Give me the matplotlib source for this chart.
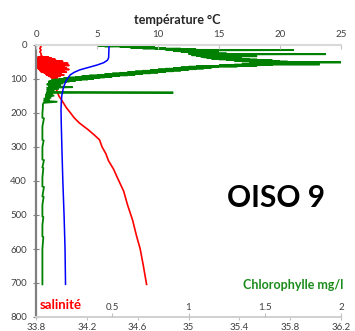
import matplotlib
matplotlib.use("Agg")
import matplotlib.pyplot as plt

plt.rcParams['font.family'] = ['Lato', 'DejaVu Sans']

# ---- Profile data (depth in m) ----
# Temperature (deg C)
temp_depth = [0, 10, 20, 30, 38, 45, 52, 59, 66, 73, 80, 88, 100, 111, 125, 147, 170, 190,
              230, 300, 400, 500, 600, 704]
temp_vals = [5.98, 5.98, 5.97, 5.96, 5.95, 5.85, 5.55, 5.00, 4.30, 3.60, 3.15, 2.80, 2.55,
             2.40, 2.25, 2.12, 2.07, 2.05, 2.07, 2.12, 2.20, 2.30, 2.38, 2.42]

# Salinity
sal_depth = ([0, 5, 10, 15, 20, 25, 30, 34]
             + list(range(35, 95))
             + [96, 98, 100, 103, 110, 120, 130, 140, 150, 161, 173, 185, 199, 214, 229,
                249, 265, 279, 300, 320, 340, 365, 390, 430, 470, 515, 560, 600, 650, 704])
sal_vals = [33.83, 33.84, 33.83, 33.84, 33.83, 33.84, 33.84, 33.85,
            33.82, 33.90, 33.80, 33.92, 33.81, 33.88, 33.80, 33.95, 33.82, 33.91,
            33.80, 33.96, 33.81, 34.01, 33.80, 33.93, 33.82, 33.97, 33.80, 34.05,
            33.81, 33.94, 33.80, 33.99, 33.82, 34.06, 33.81, 33.95, 33.80, 34.02,
            33.82, 33.94, 33.81, 34.04, 33.83, 33.95, 33.82, 34.06, 33.84, 33.96,
            33.83, 34.02, 33.85, 33.97, 33.84, 34.04, 33.86, 33.96, 33.87, 34.00,
            33.88, 33.97, 33.88, 34.02, 33.89, 33.96, 33.90, 33.99, 33.91, 33.96,
            33.92, 33.97, 33.93, 33.95, 33.94, 33.95, 33.96, 33.97, 33.98, 34.00,
            34.02, 34.04, 34.07, 34.10, 34.14, 34.21, 34.26, 34.30, 34.32, 34.35,
            34.37, 34.41, 34.44, 34.49, 34.52, 34.56, 34.59, 34.62, 34.645, 34.67]

# Chlorophyll (mg/l)
chl_depth = list(range(0, 111)) + [113, 116, 118, 121, 124, 126, 129, 132, 135, 138, 140,
             141, 143, 146, 149, 152, 155, 158, 161, 164, 167, 170, 175, 185, 200, 214,
             216, 240, 260, 279, 281, 300, 320, 337, 339, 360, 362, 390, 416, 418, 445,
             447, 470, 504, 506, 530, 563, 565, 600, 640, 670, 704]
chl_vals = [0.34, 0.64, 0.40, 0.55, 0.45, 0.70, 0.55, 0.78, 0.62, 0.85,
            0.70, 0.95, 0.78, 1.05, 0.85, 1.69, 0.95, 1.10, 0.90, 1.15,
            0.95, 1.20, 1.00, 1.17, 1.05, 1.25, 1.00, 1.90, 1.05, 1.20,
            1.02, 1.30, 1.05, 1.45, 1.08, 1.25, 1.10, 1.35, 1.12, 1.30,
            1.15, 1.40, 1.20, 1.45, 1.25, 1.55, 1.30, 1.60, 1.35, 1.65,
            1.40, 2.00, 1.45, 1.70, 1.40, 1.65, 1.35, 1.86, 1.30, 1.55,
            1.20, 1.45, 1.05, 1.32, 1.00, 1.20, 0.95, 1.15, 0.90, 1.10,
            0.85, 1.05, 0.80, 1.00, 0.75, 0.95, 0.70, 0.90, 0.65, 0.85,
            0.60, 0.80, 0.55, 0.75, 0.50, 0.70, 0.45, 0.65, 0.40, 0.60,
            0.35, 0.55, 0.30, 0.50, 0.26, 0.45, 0.22, 0.42, 0.18, 0.38,
            0.15, 0.34, 0.12, 0.30, 0.10, 0.26, 0.09, 0.22, 0.08, 0.20,
            0.08,
            0.18, 0.07, 0.16, 0.08, 0.24, 0.07, 0.15, 0.07, 0.12, 0.07,
            0.90, 0.07, 0.11, 0.06, 0.12, 0.06, 0.10, 0.05, 0.09, 0.05,
            0.14, 0.05, 0.045, 0.045, 0.042, 0.042,
            0.052, 0.042, 0.042, 0.042, 0.05, 0.042, 0.042, 0.042, 0.052, 0.042,
            0.048, 0.042, 0.042, 0.052, 0.042,
            0.05, 0.042, 0.042, 0.048, 0.042, 0.042, 0.048, 0.042, 0.042, 0.042, 0.042]

temp_ticks = [0, 5, 10, 15, 20, 25]
chl_ticks = [0.5, 1, 1.5, 2]
chl_ticklabels = ["0.5", "1", "1.5", "2"]
sal_ticks = [33.8, 34.2, 34.6, 35, 35.4, 35.8, 36.2]
depth_ticks = [0, 100, 200, 300, 400, 500, 600, 700, 800]

GREEN = "#008000"
LABEL = "#404040"
TICK_FS = 7

fig = plt.figure(figsize=(3.55, 3.31), dpi=100)
ax = fig.add_axes([36 / 355, 1 - 317 / 331, 305 / 355, 272 / 331])

# salinity axis (bottom)
ax.set_xlim(33.8, 36.2)
ax.set_ylim(800, 0)
ax.set_xticks(sal_ticks)
ax.set_xticklabels([str(v) for v in sal_ticks])
ax.set_yticks(depth_ticks)
ax.tick_params(axis='x', direction='out', length=2, width=0.8, color="#c0c0c0",
               labelsize=TICK_FS, labelcolor=LABEL, pad=2)
ax.tick_params(axis='y', direction='inout', length=4, width=0.8, color="#808080",
               labelsize=TICK_FS, labelcolor=LABEL, pad=4.5)
for side in ("right", "top"):
    ax.spines[side].set_visible(False)
ax.spines["left"].set_color("#808080")
ax.spines["left"].set_linewidth(1.6)
ax.spines["bottom"].set_color("#d0d0d0")
ax.spines["bottom"].set_linewidth(1.4)

# chlorophyll axis (bottom, labels inside)
ax_c = ax.twiny()
ax_c.set_xlim(0, 2)
ax_c.set_xticks(chl_ticks)
ax_c.set_xticklabels(chl_ticklabels)
ax_c.xaxis.set_ticks_position('bottom')
ax_c.xaxis.set_label_position('bottom')
ax_c.tick_params(axis='x', direction='in', length=3, width=0.8, color="#c0c0c0",
                 labelsize=TICK_FS, labelcolor=LABEL, pad=-10)
for side in ("right", "top", "left", "bottom"):
    ax_c.spines[side].set_visible(False)

# temperature axis (top)
ax_t = ax.twiny()
ax_t.set_xlim(0, 25)
ax_t.set_xticks(temp_ticks)
ax_t.xaxis.set_ticks_position('top')
ax_t.tick_params(axis='x', direction='in', length=3, width=0.8, color="#c0c0c0",
                 labelsize=TICK_FS, labelcolor=LABEL, pad=4.5)
for side in ("right", "left", "bottom"):
    ax_t.spines[side].set_visible(False)
ax_t.spines["top"].set_color("#d9d9d9")
ax_t.spines["top"].set_linewidth(1.5)

ax_c.plot(chl_vals, chl_depth, color=GREEN, lw=1.3, solid_joinstyle='miter')
ax_t.plot(temp_vals, temp_depth, color="#0000ff", lw=1.1)
ax.plot(sal_vals, sal_depth, color="#ff0000", lw=1.2)

fig.text(0.5, 0.94, "température °C", ha='center', va='center', fontsize=9,
         fontweight='bold', color="#262626")
fig.text(0.777, 0.402, "OISO 9", ha='center', va='center', fontsize=21.5,
         fontweight='bold', color="black")
fig.text(0.966, 0.139, "Chlorophylle mg/l", ha='right', va='center', fontsize=9,
         fontweight='bold', color="#1a8c1a")
fig.text(0.113, 0.079, "salinité", ha='left', va='center', fontsize=9.5,
         fontweight='bold', color="#ff0000")

fig.savefig("out.png", dpi=100)
